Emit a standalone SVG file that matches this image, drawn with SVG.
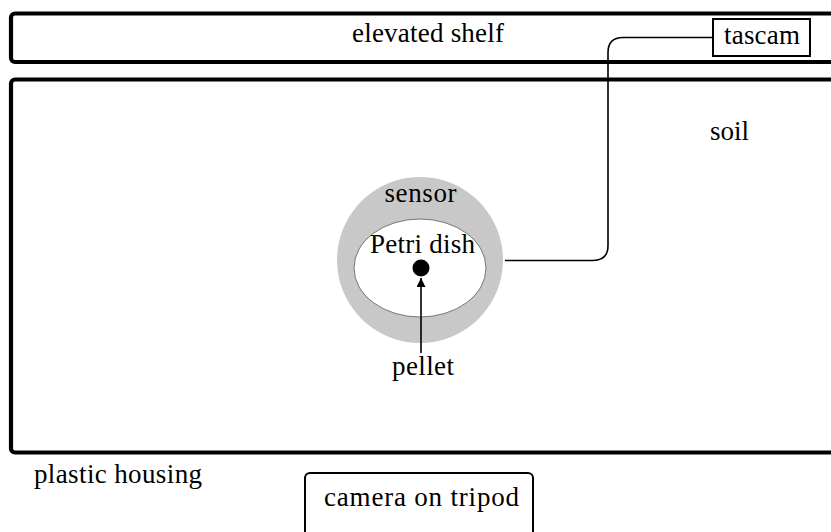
<svg xmlns="http://www.w3.org/2000/svg" width="831" height="532" viewBox="0 0 831 532">
<defs>
<style>
.t{font-family:"Liberation Serif","Times New Roman",serif;font-size:27px;fill:#000;text-anchor:middle}
.frame{fill:none;stroke:#000;stroke-width:4.2}
.box{fill:#fff;stroke:#000;stroke-width:2}
.wire{fill:none;stroke:#000;stroke-width:1.6}
</style>
<marker id="ah" viewBox="0 0 10 10" refX="10" refY="5" markerWidth="11" markerHeight="9" markerUnits="userSpaceOnUse" orient="auto">
<path d="M0,0 L10,5 L0,10 z" fill="#000"/>
</marker>
</defs>
<rect width="831" height="532" fill="#fff"/>
<g id="shelf">
<rect class="frame" x="11" y="13.5" width="840" height="48.5" rx="4"/>
<text class="t" x="428" y="42" textLength="152">elevated shelf</text>
</g>
<g id="soil">
<rect class="frame" x="11" y="79.5" width="840" height="373" rx="4"/>
<text class="t" x="729.5" y="140" textLength="39">soil</text>
</g>
<g id="sensor">
<circle cx="420" cy="260" r="83" fill="#c8c8c8"/>
<text class="t" x="420.5" y="202" textLength="72">sensor</text>
</g>
<g id="petri-dish">
<ellipse cx="420" cy="268" rx="66" ry="49" fill="#fff" stroke="#555" stroke-width="0.8"/>
<text class="t" x="422.5" y="253" textLength="105">Petri dish</text>
</g>
<g id="pellet">
<circle cx="421" cy="268" r="8.5" fill="#000"/>
<text class="t" x="423" y="375" textLength="62">pellet</text>
</g>
<g id="tascam">
<rect class="box" x="713" y="19" width="97" height="37"/>
<text class="t" x="762" y="44" textLength="76">tascam</text>
</g>
<g id="plastic-housing">
<text class="t" x="118" y="483" textLength="168">plastic housing</text>
</g>
<g id="camera">
<rect class="box" x="305" y="473" width="228" height="80" rx="5" stroke-width="2.5"/>
<text class="t" x="421.5" y="506" textLength="195">camera on tripod</text>
</g>
<g id="connectors">
<path class="wire" d="M505,260.5 H593 Q608,260.5 608,245.5 V52.5 Q608,37.5 623,37.5 H713"/>
<line class="wire" x1="421" y1="353" x2="421" y2="278" marker-end="url(#ah)"/>
</g>
</svg>
